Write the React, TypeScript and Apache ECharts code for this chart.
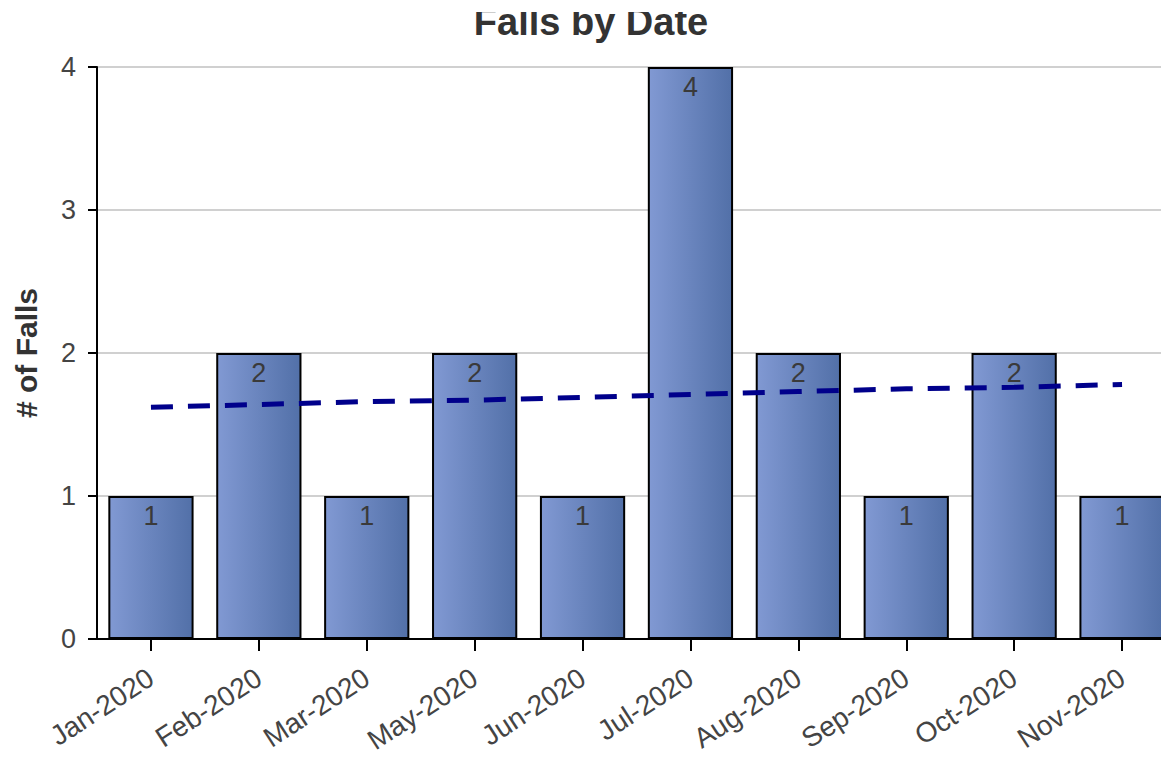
import React, { useEffect, useRef } from "react";
import * as echarts from "echarts";

const categories = ["Jan-2020", "Feb-2020", "Mar-2020", "May-2020", "Jun-2020", "Jul-2020", "Aug-2020", "Sep-2020", "Oct-2020", "Nov-2020"];
const falls = [1, 2, 1, 2, 1, 4, 2, 1, 2, 1];
const trend = [1.62, 1.64, 1.66, 1.67, 1.69, 1.71, 1.73, 1.75, 1.76, 1.78];
const yTicks = [0, 1, 2, 3, 4];

const FONT = "'Liberation Sans', Arial, sans-serif";

export default function App() {
  const ref = useRef<HTMLDivElement>(null);
  useEffect(() => {
    document.body.style.margin = "0";
    const chart = echarts.init(ref.current!, null, { renderer: "svg" });
    chart.setOption({
      animation: false,
      backgroundColor: "#ffffff",
      textStyle: { fontFamily: FONT },
      grid: { left: 97, width: 1079, top: 67, height: 572, containLabel: false, outerBoundsMode: "none" },
      xAxis: {
        type: "category",
        data: categories,
        axisLine: { show: true, lineStyle: { color: "#000", width: 2 } },
        axisTick: { show: true, alignWithLabel: true, length: 12, lineStyle: { color: "#000", width: 2 } },
        axisLabel: { rotate: 33, margin: 36, fontSize: 28, color: "#444", fontFamily: FONT },
        splitLine: { show: false },
      },
      yAxis: {
        type: "value",
        min: yTicks[0],
        max: yTicks[yTicks.length - 1],
        interval: 1,
        name: "# of Falls",
        nameLocation: "middle",
        nameGap: 56,
        nameTextStyle: { fontSize: 30, fontWeight: "bold", color: "#333", fontFamily: FONT },
        axisLine: { show: true, lineStyle: { color: "#000", width: 2 } },
        axisTick: { show: true, length: 9, lineStyle: { color: "#000", width: 2 } },
        axisLabel: { fontSize: 27, color: "#444", margin: 21, fontFamily: FONT },
        splitLine: { show: true, lineStyle: { color: "#d0d0d0", width: 2 } },
      },
      series: [
        {
          type: "bar",
          data: falls,
          barCategoryGap: "21%",
          itemStyle: {
            color: new echarts.graphic.LinearGradient(0, 0, 1, 0, [
              { offset: 0, color: "#8199d3" },
              { offset: 1, color: "#5270a8" },
            ]),
            borderColor: "#000",
            borderWidth: 2,
          },
          label: {
            show: true,
            position: "insideTop",
            distance: 6,
            fontSize: 27,
            color: "#3a3a3a",
            fontFamily: FONT,
          },
          z: 2,
        },
        {
          type: "line",
          data: trend,
          symbol: "none",
          lineStyle: { color: "#00008b", width: 5, type: [22, 15] },
          z: 5,
        },
      ],
      graphic: [
        {
          type: "text",
          x: 591,
          y: 22,
          style: {
            text: "Falls by Date",
            font: `bold 38px ${FONT}`,
            fill: "#333",
            textAlign: "center",
            textVerticalAlign: "middle",
          },
          z: 10,
        },
        {
          type: "rect",
          shape: { x: 0, y: 0, width: 1161, height: 12 },
          style: { fill: "#ffffff" },
          z: 20,
        },
      ],
    });
    return () => chart.dispose();
  }, []);
  return <div ref={ref} style={{ width: 1161, height: 760 }} />;
}
